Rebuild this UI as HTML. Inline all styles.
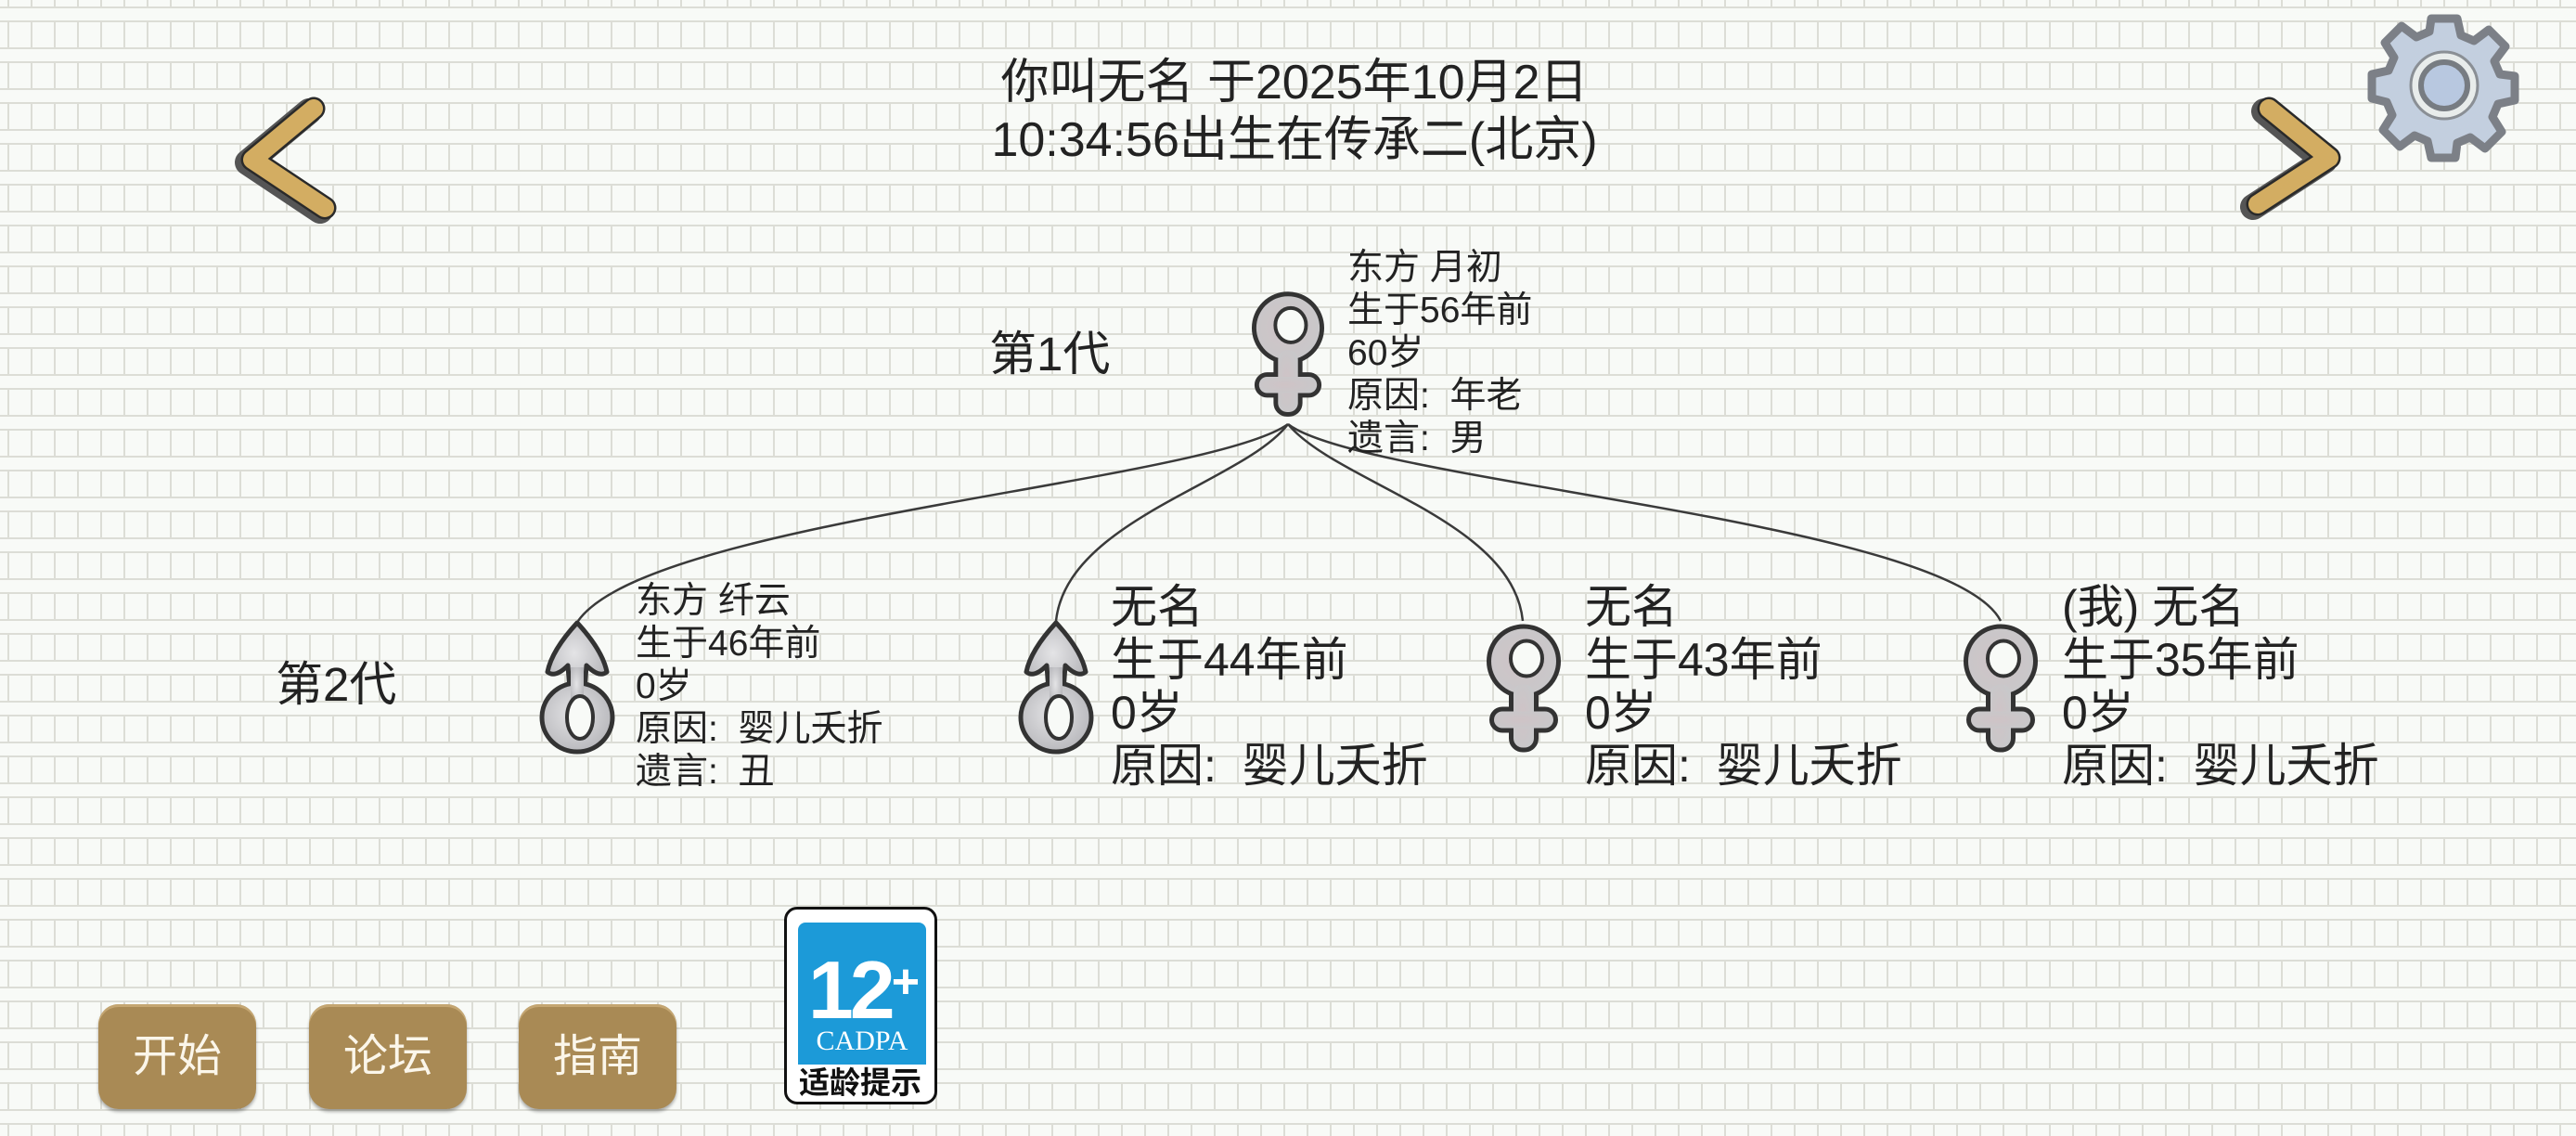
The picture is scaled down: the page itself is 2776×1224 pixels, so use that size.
<!DOCTYPE html>
<html><head><meta charset="utf-8">
<style>
html,body{margin:0;padding:0}
body{width:2776px;height:1224px;position:relative;overflow:hidden;background:#f8faf7;font-family:"Liberation Sans","Noto Sans CJK SC",sans-serif;color:#222}
.t{position:absolute;white-space:nowrap}
.btn{position:absolute;top:1082px;width:170px;height:113px;border-radius:22px;background:#a98a55;box-shadow:0 3px 3px rgba(0,0,0,.3),inset 0 3px 0 #c4a672;color:#fbf6ea;font-size:48px;line-height:113px;text-align:center}
</style></head><body>
<svg width="2776" height="1224" style="position:absolute;left:0;top:0">
<defs>
<pattern id="g" width="25" height="44" patternUnits="userSpaceOnUse" x="0" y="0">
<rect x="8" y="23" width="2" height="21" fill="#dcddd6"/>
<rect x="8" y="0" width="2" height="8" fill="#dcddd6"/>
<rect x="0" y="22" width="25" height="2" fill="#dcddd6"/>
<rect x="0" y="7" width="25" height="2" fill="#dcddd6"/>
</pattern>
<radialGradient id="mg" cx="45%" cy="45%" r="60%"><stop offset="0" stop-color="#e4e4e6"/><stop offset="1" stop-color="#b6b6ba"/></radialGradient>
<radialGradient id="fg" cx="45%" cy="50%" r="60%"><stop offset="0" stop-color="#cfc3c6"/><stop offset="1" stop-color="#c8c8ca"/></radialGradient>
<symbol id="fem" viewBox="0 0 80 145" overflow="visible">
<g fill="none" stroke="#333" stroke-width="6" stroke-linejoin="round">
<circle cx="40" cy="40" r="37"/>
<rect x="27" y="65" width="26" height="70" rx="12"/>
<rect x="6" y="92" width="68" height="22" rx="11"/>
</g>
<g fill="url(#fg)">
<circle cx="40" cy="40" r="35"/>
<rect x="29" y="65" width="22" height="68" rx="10"/>
<rect x="8" y="94" width="64" height="18" rx="9"/>
</g>
<ellipse cx="43" cy="37" rx="17" ry="19" fill="#f8faf7" stroke="#333" stroke-width="4"/>
</symbol>
<symbol id="mal" viewBox="0 0 84 142" overflow="visible">
<g stroke="#333" stroke-width="5" stroke-linejoin="round" fill="url(#mg)">
<path d="M42 2 C30 15 14 35 10 55 C16 60 24 56 32 48 L34 75 L50 75 L52 48 C60 56 68 60 74 55 C70 35 54 15 42 2Z"/>
<ellipse cx="42" cy="104" rx="38" ry="37"/>
</g>
<rect x="35" y="50" width="14" height="40" fill="url(#mg)"/>
<ellipse cx="45" cy="104" rx="14" ry="23" fill="#f8faf7" stroke="#333" stroke-width="4"/>
</symbol>
</defs>
<rect width="2776" height="1224" fill="url(#g)"/>
<g fill="none" stroke-linecap="round" stroke-linejoin="round">
<polyline points="338,117 272,172 350,224" stroke="#555" stroke-width="28" transform="translate(-5,3)"/>
<polyline points="338,117 272,172 350,224" stroke="#2a2a2a" stroke-width="25"/>
<polyline points="338,117 272,172 350,224" stroke="#d3ad62" stroke-width="20"/>
<polyline points="2445,117 2510,170 2433,220" stroke="#555" stroke-width="28" transform="translate(-5,3)"/>
<polyline points="2445,117 2510,170 2433,220" stroke="#2a2a2a" stroke-width="25"/>
<polyline points="2445,117 2510,170 2433,220" stroke="#d3ad62" stroke-width="20"/>
</g>
<g transform="translate(2634,92)">
<path d="M-14,-72 L14,-72 L18,-54 L32,-48 L48,-60 L66,-42 L54,-26 L60,-12 L76,-10 L76,16 L58,20 L52,34 L62,50 L44,68 L28,56 L14,62 L12,78 L-14,78 L-18,60 L-32,54 L-48,66 L-66,48 L-56,32 L-62,18 L-78,14 L-78,-12 L-60,-16 L-54,-30 L-64,-46 L-46,-64 L-30,-52 L-16,-58Z" fill="#c3cfdf" stroke="#7c8087" stroke-width="9" stroke-linejoin="round"/>
<circle r="36" fill="#e8eceb" stroke="#8a8f95" stroke-width="3"/>
<circle r="25" fill="#b8c8e0" stroke="#777c82" stroke-width="6"/>
</g>
<g fill="none" stroke="#3a3a3a" stroke-width="2.5">
<path d="M1388,457 C1300,520 700,560 623,669"/>
<path d="M1388,457 C1340,520 1150,560 1138,669"/>
<path d="M1388,457 C1440,520 1630,560 1641,669"/>
<path d="M1388,457 C1470,520 2100,560 2156,669"/>
</g>
<use href="#fem" x="1349" y="313" width="78" height="144"/>
<use href="#mal" x="580" y="669" width="84" height="142"/>
<use href="#mal" x="1096" y="669" width="84" height="142"/>
<use href="#fem" x="1602" y="672" width="80" height="146"/>
<use href="#fem" x="2116" y="672" width="80" height="146"/>
</svg>

<div class="t" style="left:0;width:2790px;text-align:center;top:58px;font-size:52px;line-height:62px">你叫无名 于2025年10月2日<br>10:34:56出生在传承二(北京)</div>

<div class="t" style="left:1066px;top:352px;font-size:51px;line-height:60px">第1代</div>
<div class="t" style="left:297px;top:708px;font-size:51px;line-height:60px">第2代</div>

<div class="t" style="left:1452px;top:266px;font-size:39px;line-height:46px">东方 月初<br>生于56年前<br>60岁<br>原因:&nbsp; 年老<br>遗言:&nbsp; 男</div>
<div class="t" style="left:685px;top:625px;font-size:39px;line-height:46px">东方 纤云<br>生于46年前<br>0岁<br>原因:&nbsp; 婴儿夭折<br>遗言:&nbsp; 丑</div>
<div class="t" style="left:1197px;top:626px;font-size:50px;line-height:57px">无名<br>生于44年前<br>0岁<br>原因:&nbsp; 婴儿夭折</div>
<div class="t" style="left:1708px;top:626px;font-size:50px;line-height:57px">无名<br>生于43年前<br>0岁<br>原因:&nbsp; 婴儿夭折</div>
<div class="t" style="left:2222px;top:626px;font-size:50px;line-height:57px">(我) 无名<br>生于35年前<br>0岁<br>原因:&nbsp; 婴儿夭折</div>

<div class="btn" style="left:106px">开始</div>
<div class="btn" style="left:333px">论坛</div>
<div class="btn" style="left:559px">指南</div>

<div style="position:absolute;left:845px;top:977px;width:159px;height:207px;border:3px solid #111;border-radius:14px;background:#fff"></div>
<div style="position:absolute;left:860px;top:994px;width:138px;height:153px;background:#1c9ad8;border-radius:8px 8px 0 0"></div>
<div class="t" style="left:860px;width:138px;text-align:center;top:1018px;font-size:88px;line-height:80px;font-weight:bold;color:#fff;letter-spacing:-4px">12<span style="font-size:52px;vertical-align:22px">+</span></div>
<div class="t" style="left:860px;width:138px;text-align:center;top:1106px;font-size:30px;line-height:32px;color:#fff;font-family:'Liberation Serif',serif">CADPA</div>
<div class="t" style="left:849px;width:156px;text-align:center;top:1148px;font-size:33px;line-height:38px;font-weight:bold;color:#111">适龄提示</div>
</body></html>
